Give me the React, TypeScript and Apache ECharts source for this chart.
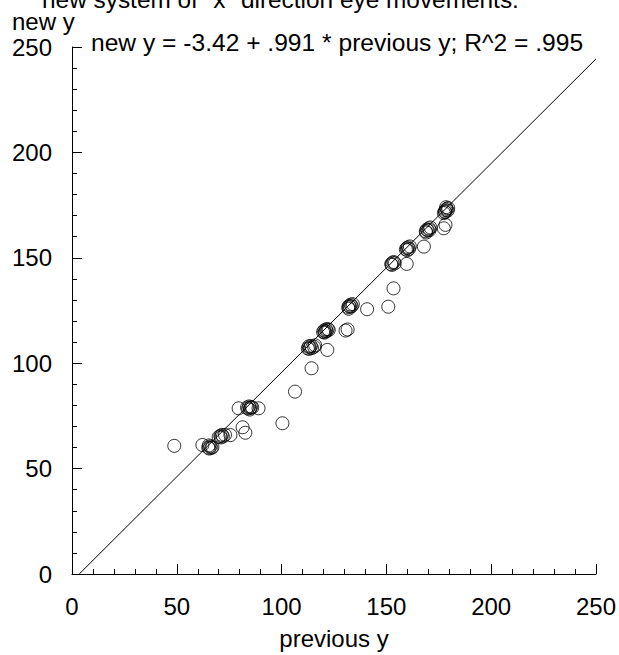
import React, { useEffect, useRef } from "react";
import * as echarts from "echarts";

const titleText = 'new system of "x" direction eye movements.';
const yAxisTitle = "new y";
const xAxisTitle = "previous y";
const fitText = "new y = -3.42 + .991 * previous y; R^2 = .995";
const fitIntercept = -3.42;
const fitSlope = 0.991;

const previousY = [
  48.8, 62.2, 65.0, 65.5, 66.0, 66.5, 65.3, 67.0,
  70.0, 70.8, 71.5, 72.0, 71.0, 73.0, 75.6, 81.4, 82.7,
  79.5, 83.5, 84.0, 84.5, 85.0, 85.5, 84.8, 86.0, 89.0,
  100.4, 106.4, 114.3,
  112.5, 113.0, 113.5, 114.0, 114.5, 113.2, 115.5, 116.0, 121.8,
  119.8, 120.3, 120.8, 121.2, 121.5, 122.0, 120.5, 122.5, 130.5, 131.5,
  131.8, 132.2, 132.6, 133.0, 133.4, 132.0, 134.0, 140.8, 150.9, 153.4,
  152.3, 152.9, 153.5, 154.0, 152.6, 159.7,
  159.3, 159.8, 160.3, 160.8, 161.2, 160.0, 167.9,
  168.8, 169.3, 169.8, 170.3, 170.6, 169.0, 171.0,
  177.4, 177.9, 178.3, 178.8, 179.2, 178.0, 179.5, 178.5, 177.4, 178.2,
];
const newY = [
  60.8, 61.2, 60.0, 59.5, 60.5, 59.8, 61.0, 60.2,
  65.0, 65.5, 66.0, 65.2, 64.8, 66.0, 65.9, 69.6, 67.0,
  78.6, 79.0, 78.5, 79.5, 78.8, 79.2, 78.0, 79.0, 78.6,
  71.5, 86.5, 97.6,
  107.0, 108.0, 107.5, 108.2, 107.2, 106.8, 107.8, 108.5, 106.3,
  114.8, 115.5, 115.0, 116.0, 115.2, 116.2, 114.5, 115.8, 115.5, 116.0,
  126.5, 127.2, 126.8, 127.8, 127.0, 125.8, 128.0, 125.6, 126.8, 135.5,
  147.0, 147.6, 148.0, 147.4, 146.6, 147.1,
  154.0, 154.6, 155.0, 154.2, 155.4, 153.6, 155.3,
  162.6, 163.4, 163.0, 164.0, 163.2, 162.0, 164.4,
  171.2, 172.0, 172.6, 173.2, 172.4, 171.6, 173.6, 174.0, 164.0, 165.6,
];

const axisMin = 0;
const axisMax = 250;
const axisStep = 50;

const FONT = "'Liberation Sans', Arial, sans-serif";

export default function App() {
  const ref = useRef<HTMLDivElement>(null);
  useEffect(() => {
    if (!ref.current) return;
    const chart = echarts.init(ref.current, null, { renderer: "svg" });
    const points = previousY.map((x, i) => [x, newY[i]]);
    const xStart = -fitIntercept / fitSlope;
    const fitLine = [
      [xStart, 0],
      [axisMax, fitIntercept + fitSlope * axisMax],
    ];
    const axisCommon = {
      type: "value" as const,
      min: axisMin,
      max: axisMax,
      interval: axisStep,
      splitLine: { show: false },
      axisLine: { show: true, onZero: false, lineStyle: { color: "#000", width: 1 } },
      axisTick: { show: true, inside: true, length: 10, lineStyle: { color: "#000", width: 1 } },
      minorTick: { show: true, splitNumber: 5, length: 5, lineStyle: { color: "#000", width: 1 } },
      minorSplitLine: { show: false },
    };
    chart.setOption({
      animation: false,
      backgroundColor: "#fff",
      grid: { left: 72, right: 19, top: 47, bottom: 81, containLabel: false },
      xAxis: {
        ...axisCommon,
        axisLabel: { color: "#000", fontSize: 24, fontFamily: FONT, margin: 20 },
        name: xAxisTitle,
        nameLocation: "middle",
        nameGap: 52,
        nameTextStyle: { color: "#000", fontSize: 24, fontFamily: FONT },
      },
      yAxis: {
        ...axisCommon,
        axisLabel: {
          color: "#000",
          fontSize: 24,
          fontFamily: FONT,
          margin: 20,
          padding: [14, 0, 0, 0],
        },
      },
      graphic: [
        {
          type: "text",
          left: 42,
          top: -13,
          style: { text: titleText, fontSize: 24.4, fontFamily: FONT, fill: "#000" },
        },
        {
          type: "text",
          left: 12,
          top: 9,
          style: { text: yAxisTitle, fontSize: 24, fontFamily: FONT, fill: "#000" },
        },
        {
          type: "text",
          left: 91,
          top: 30,
          style: { text: fitText, fontSize: 24.6, fontFamily: FONT, fill: "#000" },
        },
      ],
      series: [
        {
          type: "line",
          data: fitLine,
          showSymbol: false,
          symbol: "none",
          lineStyle: { color: "#000", width: 1 },
          silent: true,
          z: 1,
        },
        {
          type: "scatter",
          data: points,
          symbol: "circle",
          symbolSize: 13,
          itemStyle: { color: "rgba(0,0,0,0)", borderColor: "#000", borderWidth: 1 },
          z: 2,
        },
      ],
    });
    return () => chart.dispose();
  }, []);
  return (
    <div
      ref={ref}
      style={{ position: "fixed", left: 0, top: 0, width: 619, height: 655, background: "#fff" }}
    />
  );
}
